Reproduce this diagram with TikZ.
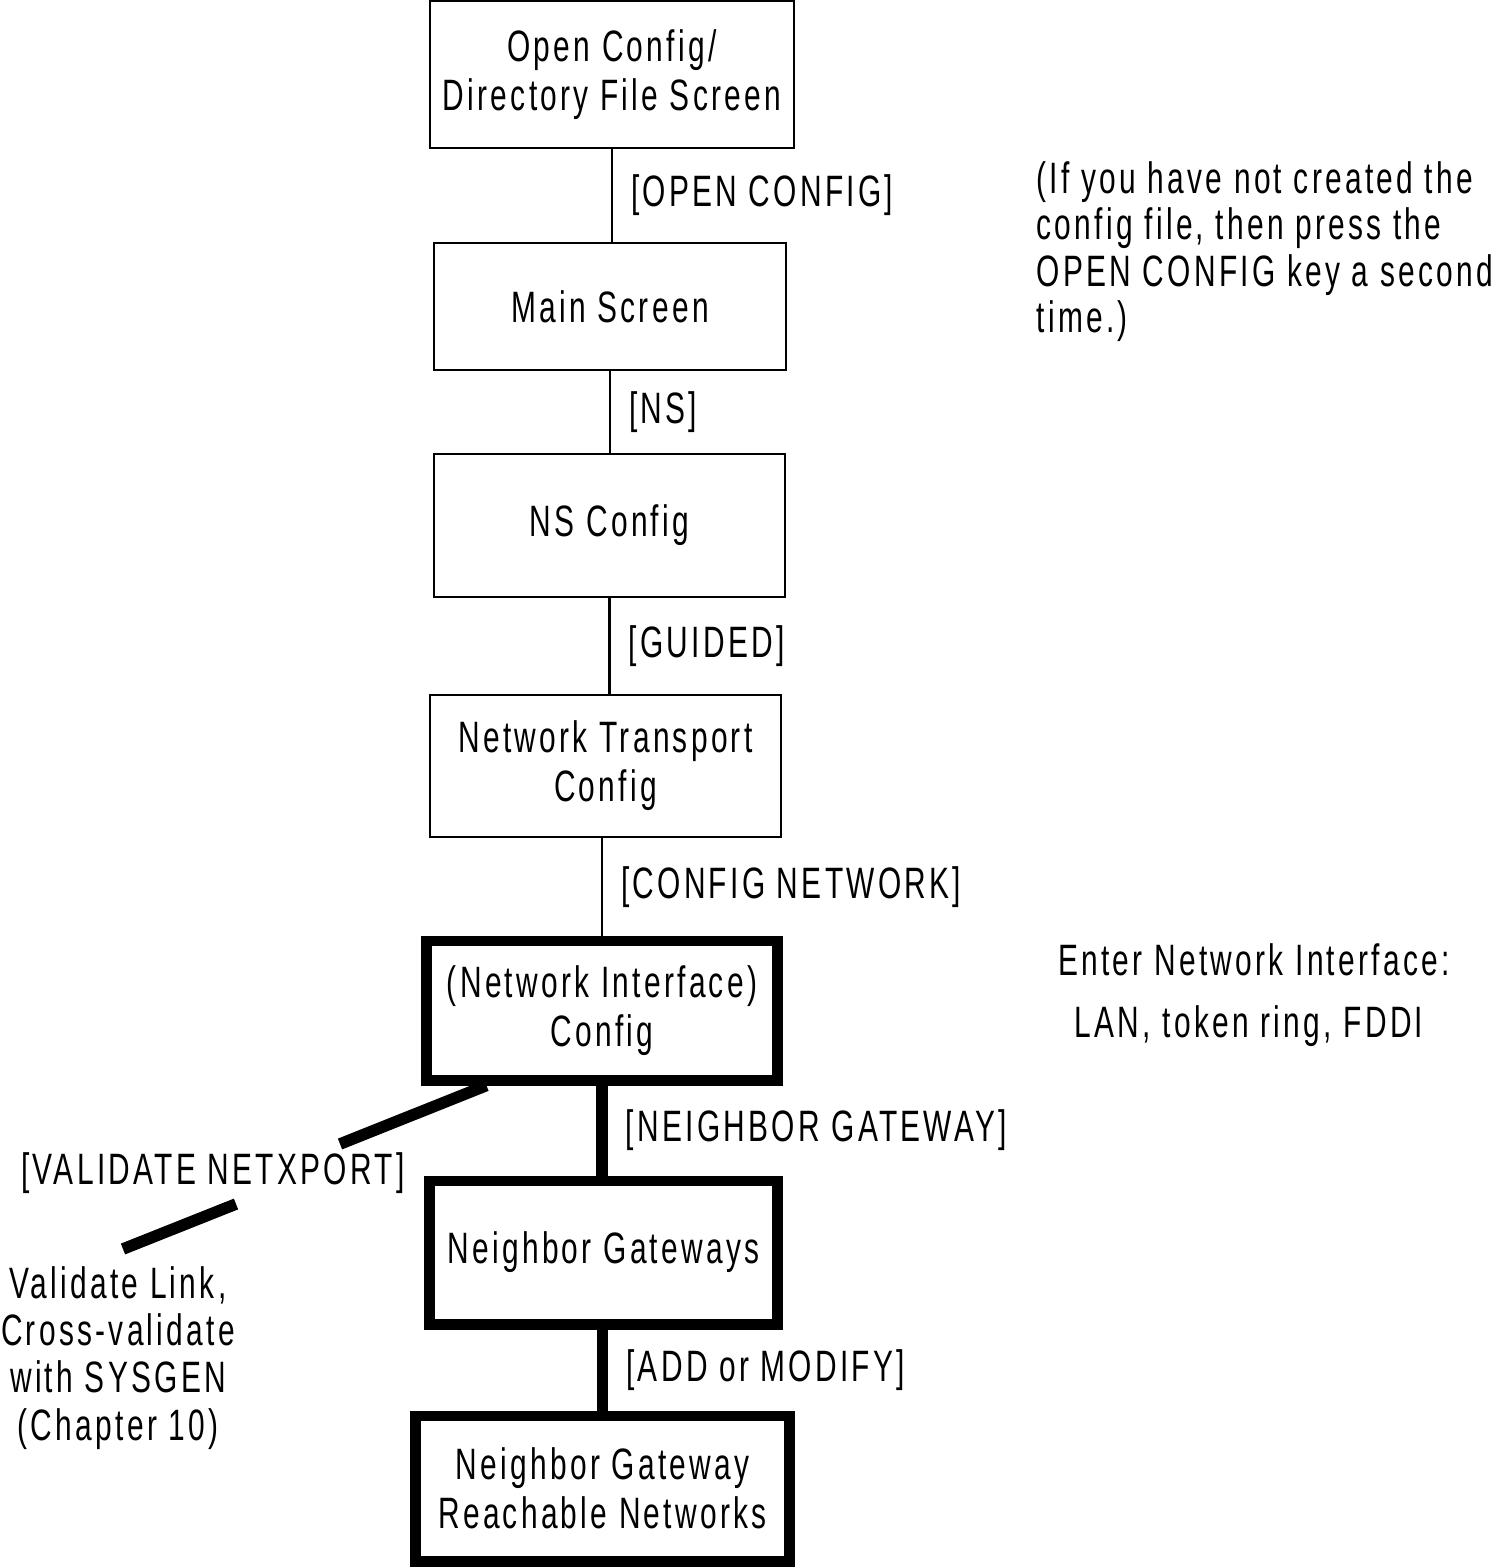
\documentclass[tikz,border=0pt]{standalone}
\usepackage{fontspec}
\setmainfont{Liberation Sans}[FakeStretch=0.68, LetterSpace=7.5]
\usetikzlibrary{calc}

\tikzset{
	screen/.style={draw, line width=0.6pt, align=center, inner sep=0pt},
	keyscreen/.style={screen, line width=3.1pt},
	keylabel/.style={midway, right=0.18cm, inner sep=0pt},
	note/.style={inner sep=0pt},
	thin/.style={line width=0.6pt},
	heavy/.style={line width=3.3pt}
}

\begin{document}
\begin{tikzpicture}[x=0.01cm, y=-0.01cm, every node/.style={font=\fontsize{12.5}{14}\selectfont}]
	\useasboundingbox (0,0) rectangle (1509,1567);

	\node[screen, minimum width=3.64cm, minimum height=1.47cm](open) at (612,74.5) {Open Config/\\Directory File Screen};
	\node[screen, minimum width=3.52cm, minimum height=1.27cm](main) at (610,306.5) {Main Screen};
	\node[screen, minimum width=3.51cm, minimum height=1.43cm](ns) at (609.5,525.5) {NS Config};
	\node[screen, minimum width=3.51cm, minimum height=1.42cm](transport) at (605.5,766) {Network Transport\\Config};
	\node[keyscreen, minimum width=3.50cm, minimum height=1.39cm](netif) at (602,1010.5) {(Network Interface)\\Config};
	\node[keyscreen, minimum width=3.47cm, minimum height=1.43cm](gateways) at (603.5,1252.5) {Neighbor Gateways};
	\node[keyscreen, minimum width=3.73cm, minimum height=1.45cm](reachable) at (602.5,1488.5) {Neighbor Gateway\\Reachable Networks};

	\draw[thin] (open.south) -- node[keylabel]{[OPEN CONFIG]} (open.south |- main.north);
	\draw[thin] (main.south) -- node[keylabel]{[NS]} (main.south |- ns.north);
	\draw[thin] (ns.south) -- node[keylabel]{[GUIDED]} (ns.south |- transport.north);
	\draw[thin] (netif.north |- transport.south) -- node[keylabel]{[CONFIG NETWORK]} (netif.north);
	\draw[heavy] (netif.south) -- node[keylabel]{[NEIGHBOR GATEWAY]} (netif.south |- gateways.north);
	\draw[heavy] (reachable.north |- gateways.south) -- node[keylabel]{[ADD or MODIFY]} (reachable.north);

	\node[note, align=left, anchor=west, font=\fontsize{12.5}{13.2}\selectfont](recreate) at (1036,251.5) {(If you have not created the\\config file, then press the\\OPEN CONFIG key a second\\time.)};
	\node[note](enter) at (1254,960) {Enter Network Interface:};
	\node[note](iftypes) at (1249,1026) {LAN, token ring, FDDI};

	\node[note](netxport) at (213,1173) {[VALIDATE NETXPORT]};
	\node[note, align=center, font=\fontsize{12.5}{13.4}\selectfont](validate) at (118,1358) {Validate Link,\\Cross-validate\\with SYSGEN\\(Chapter 10)};

	\coordinate (diagstart) at ($(netif.south west)!0.18!(netif.south east)$);
	\coordinate (diagA) at (340,1144);
	\coordinate (diagB) at (236,1204);
	\coordinate (diagC) at (123,1249);
	\draw[heavy] (diagstart) -- (diagA);
	\draw[heavy] (diagB) -- (diagC);
\end{tikzpicture}
\end{document}
